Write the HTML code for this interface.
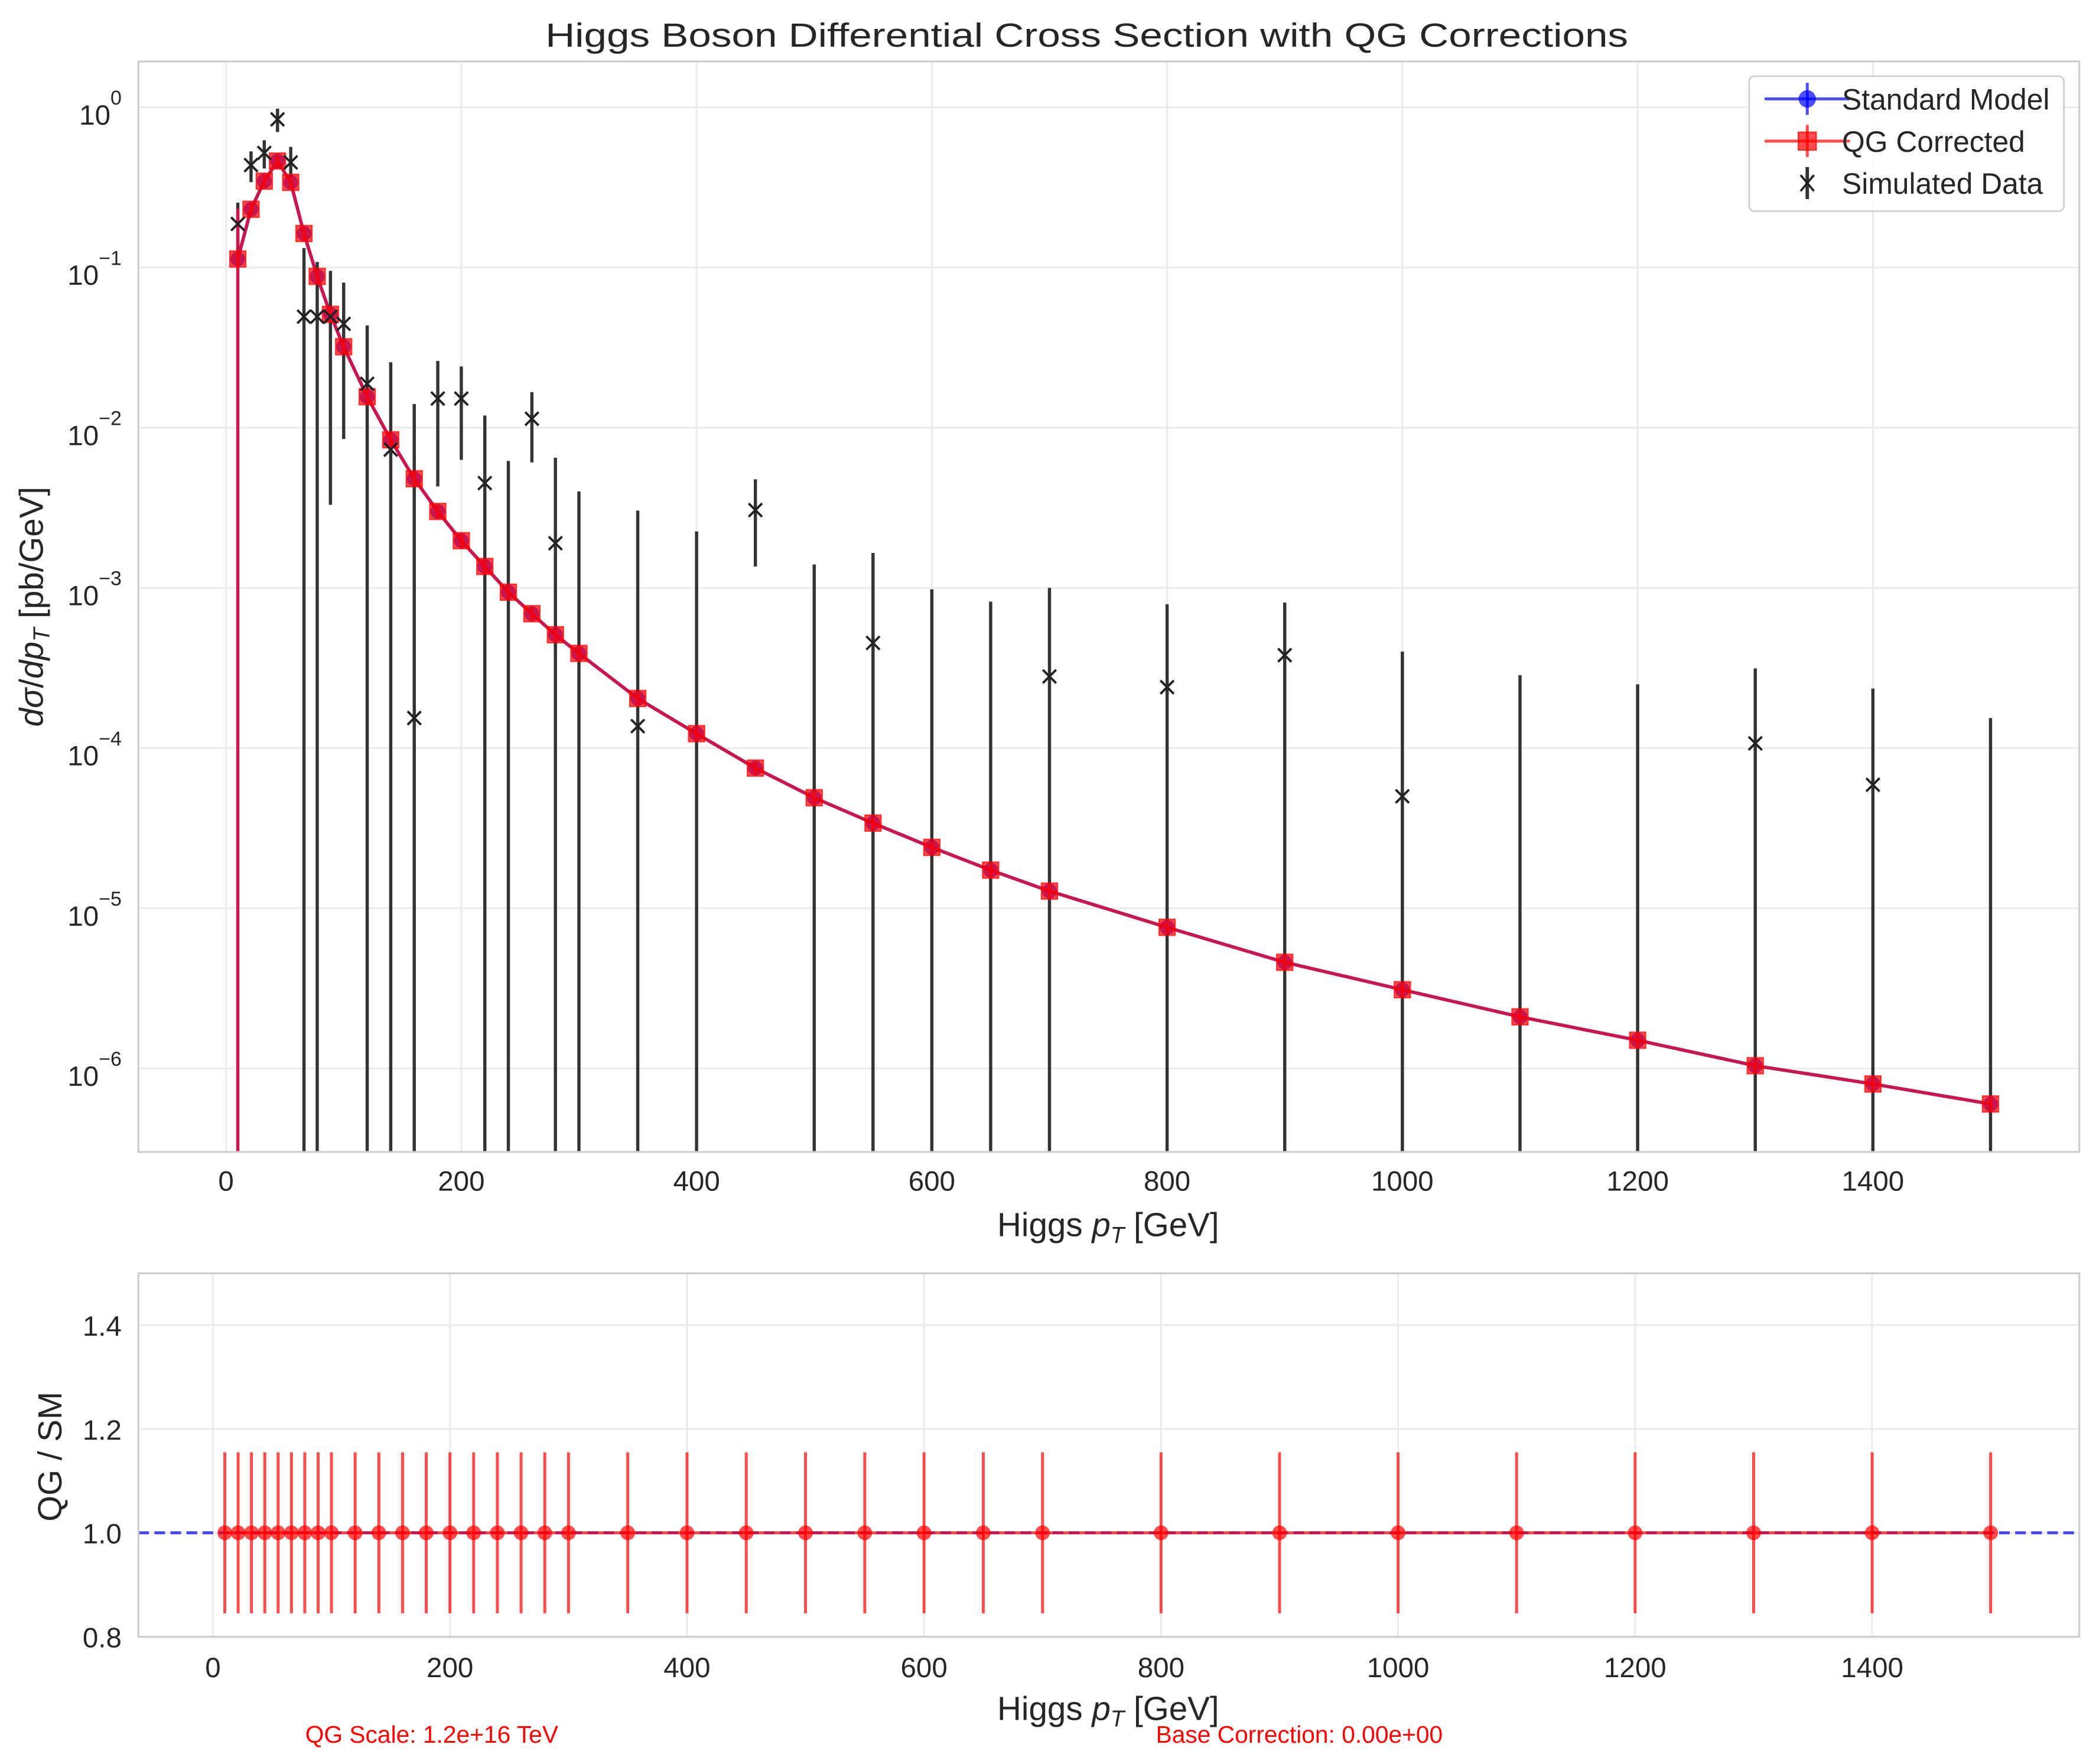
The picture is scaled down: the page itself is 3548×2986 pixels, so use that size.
<!DOCTYPE html>
<html><head><meta charset="utf-8">
<style>
html,body{margin:0;padding:0;background:#fff;}
svg{display:block;}
text{font-family:"Liberation Sans",Arial,sans-serif;fill:#262626;}
</style></head>
<body>
<svg id="fig" width="3548" height="2986" viewBox="0 0 1568 1320" preserveAspectRatio="none" xmlns="http://www.w3.org/2000/svg">
<defs>
<clipPath id="clipTop"><rect x="103.5" y="46" width="1452" height="816"/></clipPath>
<clipPath id="clipBot"><rect x="103.5" y="952.8" width="1452" height="272"/></clipPath>
</defs>
<rect width="1568" height="1320" fill="#fff"/>
<text x="813" y="35" font-size="25" text-anchor="middle" textLength="810" lengthAdjust="spacingAndGlyphs">Higgs Boson Differential Cross Section with QG Corrections</text>
<g id="topGrid"></g>
<g id="topMarks" clip-path="url(#clipTop)"></g>
<rect x="103.5" y="46" width="1452" height="816" fill="none" stroke="#cccccc" stroke-width="1.4"/>
<g id="topTicks"></g>
<text x="829" y="925" font-size="25" text-anchor="middle">Higgs <tspan font-style="italic">p</tspan><tspan font-style="italic" font-size="17" dy="5">T</tspan><tspan dy="-5"> [GeV]</tspan></text>
<text transform="translate(32,454) rotate(-90)" font-size="25" text-anchor="middle"><tspan font-style="italic">dσ</tspan>/<tspan font-style="italic">dp</tspan><tspan font-style="italic" font-size="17" dy="5">T</tspan><tspan dy="-5"> [pb/GeV]</tspan></text>

<g>
<rect x="1308.5" y="57" width="235.5" height="101" rx="4" fill="#fff" fill-opacity="0.85" stroke="#d3d3d3" stroke-width="1.4"/>
<g>
<line x1="1321" y1="74" x2="1383" y2="74" stroke="#0000ff" stroke-opacity="0.7" stroke-width="2.2" stroke-linecap="round"/>
<line x1="1352" y1="62" x2="1352" y2="86" stroke="#0000ff" stroke-opacity="0.7" stroke-width="2.2"/>
<circle cx="1352" cy="74" r="6.5" fill="#0000ff" fill-opacity="0.7"/>
<text x="1378" y="82" font-size="22">Standard Model</text>
</g>
<g>
<line x1="1321" y1="105.6" x2="1383" y2="105.6" stroke="#ff0000" stroke-opacity="0.7" stroke-width="2.2" stroke-linecap="round"/>
<line x1="1352" y1="93.5" x2="1352" y2="117.5" stroke="#ff0000" stroke-opacity="0.7" stroke-width="2.2"/>
<rect x="1345.3" y="98.9" width="13.4" height="13.4" fill="#ff0000" fill-opacity="0.7" stroke="#ff0000" stroke-opacity="0.7"/>
<text x="1378" y="113.6" font-size="22">QG Corrected</text>
</g>
<g>
<line x1="1352" y1="125" x2="1352" y2="149" stroke="#333" stroke-width="2.6"/>
<path d="M1347,131 L1357,143 M1357,131 L1347,143" stroke="#222" stroke-width="1.6"/>
<text x="1378" y="145" font-size="22">Simulated Data</text>
</g>
</g>

<g id="botGrid"></g>
<g id="botMarks" clip-path="url(#clipBot)"></g>
<rect x="103.5" y="952.8" width="1452" height="272" fill="none" stroke="#cccccc" stroke-width="1.4"/>
<g id="botTicks"></g>
<text x="829" y="1287" font-size="25" text-anchor="middle">Higgs <tspan font-style="italic">p</tspan><tspan font-style="italic" font-size="17" dy="5">T</tspan><tspan dy="-5"> [GeV]</tspan></text>
<text transform="translate(46,1090) rotate(-90)" font-size="25" text-anchor="middle">QG / SM</text>
<text x="323" y="1304" font-size="18" text-anchor="middle" style="fill:#ff0000">QG Scale: 1.2e+16 TeV</text>
<text x="972" y="1304" font-size="18" text-anchor="middle" style="fill:#ff0000">Base Correction: 0.00e+00</text>
</svg>

<script>
const ptBins = [10,21.25,32.5,43.75,55,66.25,77.5,88.75,100,120,140,160,180,200,220,240,260,280,300,350,400,450,500,550,600,650,700,800,900,1000,1100,1200,1300,1400,1500];
const smValues = [0.113,0.231,0.346,0.462,0.34,0.163,0.088,0.051,0.032,0.0156,0.0084,0.0048,0.003,0.00197,0.00136,0.00094,0.00069,0.00051,0.00039,0.000204,0.000123,7.5e-5,4.9e-5,3.4e-5,2.4e-5,1.73e-5,1.28e-5,7.6e-6,4.6e-6,3.1e-6,2.1e-6,1.5e-6,1.04e-6,8e-7,6e-7];
const qgValues = [0.113,0.231,0.346,0.462,0.34,0.163,0.088,0.051,0.032,0.0156,0.0084,0.0048,0.003,0.00197,0.00136,0.00094,0.00069,0.00051,0.00039,0.000204,0.000123,7.5e-5,4.9e-5,3.4e-5,2.4e-5,1.73e-5,1.28e-5,7.6e-6,4.6e-6,3.1e-6,2.1e-6,1.5e-6,1.04e-6,8e-7,6e-7];
const qgErrors = [0.12,0.02,0.03,0.04,0.03,0.015,0.008,0.005,0.003,0.0015,0.0008,0.0005,0.0003,0.0002,0.00014,0.00009,0.00007,0.00005,0.00004,0.00002,0.000012,7e-6,5e-6,3e-6,2e-6,1.7e-6,1.3e-6,7e-7,5e-7,3e-7,2e-7,1.5e-7,1e-7,8e-8,6e-8];
const dataValues = [0.187,0.436,0.519,0.841,0.453,0.0493,0.0493,0.0493,0.0445,0.0188,0.0073,0.000154,0.0152,0.0152,0.00451,-0.0005,0.01137,0.0019,-0.0005,0.000137,-0.0002,0.00306,-0.0003,0.000453,-0.0001,-0.0001,0.00028,0.00024,0.00038,5.0e-5,-5e-5,-5e-5,0.000107,5.9e-5,-4e-5];
const dataErrors = [0.067,0.095,0.104,0.14,0.113,0.083,0.059,0.046,0.036,0.0247,0.0183,0.0139,0.0109,0.0089,0.0074,0.0067,0.0053,0.0046,0.0045,0.0029,0.00245,0.0017,0.0017,0.0012,0.00108,0.00092,0.00072,0.00055,0.00043,0.00035,0.000335,0.0003,0.000207,0.000176,0.000194];
const ratioValues = [1,1,1,1,1,1,1,1,1,1,1,1,1,1,1,1,1,1,1,1,1,1,1,1,1,1,1,1,1,1,1,1,1,1,1];
const ratioErrors = [0.155,0.155,0.155,0.155,0.155,0.155,0.155,0.155,0.155,0.155,0.155,0.155,0.155,0.155,0.155,0.155,0.155,0.155,0.155,0.155,0.155,0.155,0.155,0.155,0.155,0.155,0.155,0.155,0.155,0.155,0.155,0.155,0.155,0.155,0.155];
const xTickValues = [0,200,400,600,800,1000,1200,1400];
const yTopExponents = [0,-1,-2,-3,-4,-5,-6];
const yRatioTicks = [0.8,1.0,1.2,1.4];

const NS = "http://www.w3.org/2000/svg";
const TOP = {l:103.5, r:1555.5, t:46, b:861.8};
const BOT = {l:103.5, r:1555.5, t:952.8, b:1224.8};
const xTop = v => 169.1 + v*0.880;
const xBot = v => 159.3 + v*0.8866;
const yMin = 2.96e-7;
const yTop = v => 80.3 - 119.87*Math.log10(Math.max(v, yMin*0.5));
const yBot = v => 1147 - (v-1)*388.5;

function mk(tag, attrs, parent){
  const e = document.createElementNS(NS, tag);
  for (const k in attrs) e.setAttribute(k, attrs[k]);
  parent.appendChild(e);
  return e;
}
const topGrid = document.getElementById('topGrid');
const topMarks = document.getElementById('topMarks');
const topTicks = document.getElementById('topTicks');
const botGrid = document.getElementById('botGrid');
const botMarks = document.getElementById('botMarks');
const botTicks = document.getElementById('botTicks');

xTickValues.forEach(v=>{
  const gx = mk('line',{x1:xTop(v),x2:xTop(v),y1:TOP.t,y2:TOP.b,stroke:'#ebebeb','stroke-width':1.3},topGrid);
  
  
  const t = mk('text',{x:xTop(v),y:891,'font-size':21,'text-anchor':'middle'},topTicks);
  t.textContent = String(v);
  
  
  const gb = mk('line',{x1:xBot(v),x2:xBot(v),y1:BOT.t,y2:BOT.b,stroke:'#ebebeb','stroke-width':1.3},botGrid);
  
  
  const tb = mk('text',{x:xBot(v),y:1255,'font-size':21,'text-anchor':'middle'},botTicks);
  tb.textContent = String(v);
  
  
});
yTopExponents.forEach(e=>{
  const y = yTop(Math.pow(10,e));
  const g = mk('line',{x1:TOP.l,x2:TOP.r,y1:y,y2:y,stroke:'#ebebeb','stroke-width':1.3},topGrid);
  
  
  const t = mk('text',{x:91,y:y+13,'font-size':21,'text-anchor':'end'},topTicks);
  
  
  const base = document.createElementNS(NS,'tspan'); base.textContent='10'; t.appendChild(base);
  const sup = document.createElementNS(NS,'tspan');
  sup.setAttribute('font-size','15'); sup.setAttribute('dy','-15');
  sup.textContent = e===0 ? '0' : '\u2212'+Math.abs(e);
  t.appendChild(sup);
});
yRatioTicks.forEach(v=>{
  const y = yBot(v);
  const g = mk('line',{x1:BOT.l,x2:BOT.r,y1:y,y2:y,stroke:'#ebebeb','stroke-width':1.3},botGrid);
  
  
  const t = mk('text',{x:91,y:y+8,'font-size':21,'text-anchor':'end'},botTicks);
  t.textContent = v.toFixed(1);
  
  
});

ptBins.forEach((x,i)=>{
  const v = dataValues[i], e = dataErrors[i];
  const hi = v+e, lo = v-e;
  const y1 = yTop(hi), y2 = lo>yMin ? yTop(lo) : TOP.b+5;
  const bar = mk('line',{x1:xTop(x),x2:xTop(x),y1:y1,y2:y2,stroke:'#333','stroke-width':2.4},topMarks);
  
  
});
const smPts = ptBins.map((x,i)=>xTop(x)+','+yTop(smValues[i])).join(' ');
const smLine = mk('polyline',{points:smPts,fill:'none',stroke:'#0000ff','stroke-opacity':0.7,'stroke-width':2.5},topMarks);


ptBins.forEach((x,i)=>{
  const c = mk('circle',{cx:xTop(x),cy:yTop(smValues[i]),r:5.6,fill:'#0000ff','fill-opacity':0.7},topMarks);
  
  
});
const qgPts = ptBins.map((x,i)=>xTop(x)+','+yTop(qgValues[i])).join(' ');
const qgLine = mk('polyline',{points:qgPts,fill:'none',stroke:'#ff0000','stroke-opacity':0.7,'stroke-width':2.5},topMarks);


ptBins.forEach((x,i)=>{
  const v = qgValues[i], e = qgErrors[i];
  const y1 = yTop(v+e), y2 = (v-e)>yMin ? yTop(v-e) : TOP.b+5;
  const eb = mk('line',{x1:xTop(x),x2:xTop(x),y1:y1,y2:y2,stroke:'#c9174c','stroke-width':2.4},topMarks);
  
  
});
ptBins.forEach((x,i)=>{
  const s = mk('rect',{x:xTop(x)-6,y:yTop(qgValues[i])-6,width:12,height:12,fill:'#ff0000','fill-opacity':0.7,stroke:'#ff0000','stroke-opacity':0.7,'stroke-width':1},topMarks);
  
  
});
ptBins.forEach((x,i)=>{
  const v = dataValues[i];
  if (v<=0) return;
  const cx = xTop(x), cy = yTop(v), d = 5;
  const m = mk('path',{d:`M${cx-d},${cy-d} L${cx+d},${cy+d} M${cx+d},${cy-d} L${cx-d},${cy+d}`,stroke:'#222','stroke-width':1.7,fill:'none'},topMarks);
  
  
});

const ref = mk('line',{x1:BOT.l,x2:BOT.r,y1:yBot(1),y2:yBot(1),stroke:'#0000ff','stroke-opacity':0.7,'stroke-width':2.2,'stroke-dasharray':'8,4'},botMarks);


const rPts = ptBins.map((x,i)=>xBot(x)+','+yBot(ratioValues[i])).join(' ');
const rLine = mk('polyline',{points:rPts,fill:'none',stroke:'#ff0000','stroke-opacity':0.7,'stroke-width':2.2},botMarks);


ptBins.forEach((x,i)=>{
  const v = ratioValues[i], e = ratioErrors[i];
  const eb = mk('line',{x1:xBot(x),x2:xBot(x),y1:yBot(v+e),y2:yBot(v-e),stroke:'#ff0000','stroke-opacity':0.7,'stroke-width':2.2},botMarks);
  
  
  const c = mk('circle',{cx:xBot(x),cy:yBot(v),r:5.5,fill:'#ff0000','fill-opacity':0.7},botMarks);
  
  
});
</script>
</body></html>
